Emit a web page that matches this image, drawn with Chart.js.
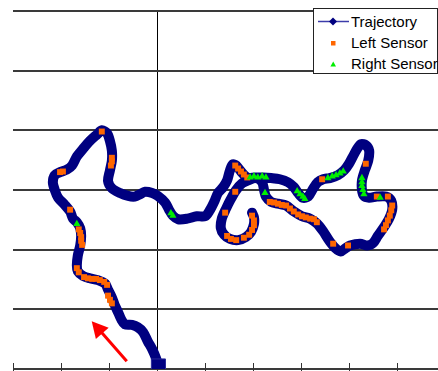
<!DOCTYPE html>
<html>
<head>
<meta charset="utf-8">
<script src="https://cdn.jsdelivr.net/npm/chart.js@4.4.1/dist/chart.umd.min.js"></script>
<style>
  html, body { margin: 0; padding: 0; background: #fff; overflow: hidden; width: 438px; height: 371px; }
  #wrap { position: relative; width: 460px; height: 380px; }
  #legend {
    position: absolute; left: 313px; top: 8px; width: 125px; height: 66px;
    box-sizing: border-box; border: 1px solid #222; background: #fff;
    font: 15px "Liberation Sans", Arial, sans-serif; color: #000; padding-top: 2px;
  }
  #legend .row { height: 21px; display: flex; align-items: center; }
  #legend svg { width: 37px; height: 21px; flex: none; }
  #legend span { white-space: nowrap; }
</style>
</head>
<body>
<div id="wrap">
  <canvas id="c" width="460" height="380"></canvas>
  <div id="legend"></div>
</div>
<script>
// Robot path (x, y in grid units) and the points where each sensor fired
const trajX = [0.03, -0.02, -0.10, -0.19, -0.29, -0.40, -0.52, -0.67, -0.75, -0.81,
  -0.88, -0.94, -1.02, -1.08, -1.23, -1.40, -1.54, -1.65, -1.67, -1.65,
  -1.60, -1.58, -1.60, -1.67, -1.75, -1.81, -1.92, -2.06, -2.13, -2.17,
  -2.13, -2.02, -1.88, -1.77, -1.67, -1.54, -1.40, -1.25, -1.15, -1.04,
  -0.98, -0.94, -0.94, -0.98, -1.02, -0.94, -0.77, -0.60, -0.46, -0.35,
  -0.25, -0.10, 0.02, 0.17, 0.25, 0.33, 0.44, 0.63, 0.83, 1.00,
  1.10, 1.19, 1.27, 1.38, 1.46, 1.52, 1.58, 1.65, 1.75, 1.88,
  2.04, 2.21, 2.38, 2.56, 2.73, 2.85, 2.94, 3.04, 3.15, 3.25,
  3.35, 3.46, 3.60, 3.77, 3.90, 4.00, 4.08, 4.17, 4.25, 4.35,
  4.42, 4.40, 4.33, 4.27, 4.27, 4.31, 4.42, 4.58, 4.77, 4.88,
  4.90, 4.83, 4.73, 4.60, 4.50, 4.38, 4.23, 4.02, 3.92, 3.83,
  3.71, 3.58, 3.46, 3.33, 3.19, 3.02, 2.85, 2.69, 2.52, 2.38,
  2.27, 2.23, 2.19, 2.06, 1.90, 1.77, 1.65, 1.54, 1.44, 1.35,
  1.33, 1.40, 1.52, 1.69, 1.85, 1.96, 2.02, 2.02, 1.98];
const trajY = [0.05, 0.18, 0.33, 0.46, 0.62, 0.70, 0.74, 0.75, 0.84, 0.95,
  1.07, 1.20, 1.33, 1.43, 1.49, 1.52, 1.56, 1.64, 1.74, 1.90,
  2.07, 2.23, 2.36, 2.46, 2.52, 2.64, 2.75, 2.87, 3.00, 3.13,
  3.25, 3.30, 3.34, 3.41, 3.56, 3.69, 3.82, 3.93, 4.00, 3.95,
  3.82, 3.66, 3.49, 3.33, 3.15, 3.03, 2.95, 2.90, 2.89, 2.93,
  2.97, 2.95, 2.90, 2.79, 2.67, 2.57, 2.51, 2.52, 2.56, 2.56,
  2.66, 2.80, 2.95, 3.05, 3.16, 3.33, 3.43, 3.41, 3.31, 3.21,
  3.21, 3.21, 3.20, 3.18, 3.13, 3.05, 2.95, 2.87, 2.89, 3.02,
  3.13, 3.18, 3.20, 3.25, 3.33, 3.44, 3.56, 3.69, 3.77, 3.75,
  3.66, 3.49, 3.33, 3.16, 3.00, 2.90, 2.87, 2.89, 2.89, 2.82,
  2.67, 2.51, 2.38, 2.23, 2.11, 2.07, 2.10, 2.07, 2.02, 1.97,
  2.03, 2.16, 2.31, 2.44, 2.52, 2.56, 2.64, 2.74, 2.77, 2.80,
  2.89, 3.00, 3.13, 3.20, 3.16, 3.11, 3.00, 2.85, 2.69, 2.52,
  2.36, 2.25, 2.18, 2.16, 2.21, 2.30, 2.43, 2.54, 2.62];

const leftX = [-1.15, -0.94, -0.94, -0.96, -2.02, -1.96, -1.81, -1.63, -1.60, -1.58,
  -1.58, -1.56, -1.67, -1.63, -1.52, -1.44, -1.35, -1.27, -1.19, -1.10,
  -1.04, -1.02, -0.98, -0.94, 1.63, 1.69, 1.75, 1.81, 1.88, 1.63,
  1.42, 1.46, 1.54, 1.65, 1.81, 1.92, 1.98, 2.02, 2.02, 1.98,
  2.35, 2.44, 2.52, 2.60, 2.69, 2.77, 2.85, 2.94, 3.02, 3.10,
  3.19, 3.27, 3.33, 3.44, 4.35, 4.58, 4.81, 4.90, 4.88, 4.85,
  4.81, 4.77, 4.73, 3.67, 3.98];
const leftY = [3.98, 3.54, 3.48, 3.41, 3.30, 3.31, 2.67, 2.34, 2.28, 2.21,
  2.15, 2.08, 1.69, 1.62, 1.54, 1.52, 1.51, 1.51, 1.49, 1.46,
  1.41, 1.23, 1.16, 1.10, 3.41, 3.36, 3.31, 3.26, 3.21, 2.97,
  2.62, 2.23, 2.18, 2.16, 2.20, 2.25, 2.33, 2.41, 2.49, 2.57,
  2.80, 2.79, 2.77, 2.75, 2.74, 2.69, 2.64, 2.59, 2.56, 2.54,
  2.52, 2.51, 2.46, 3.18, 3.44, 2.89, 2.89, 2.74, 2.66, 2.57,
  2.49, 2.41, 2.34, 2.10, 2.07];

const rightX = [-1.67, 0.29, 0.33, 1.94, 2.02, 2.10, 2.19, 2.27, 2.25, 2.92,
  2.98, 3.04, 3.08, 3.56, 3.65, 3.73, 3.81, 3.88, 4.27, 4.27,
  4.27, 4.29, 4.31, 4.65];
const rightY = [2.43, 2.61, 2.57, 3.21, 3.23, 3.21, 3.23, 3.21, 2.95, 2.98,
  2.93, 2.89, 2.85, 3.20, 3.23, 3.25, 3.28, 3.31, 3.20, 3.13,
  3.07, 3.00, 2.93, 2.87];

const seriesLabels = ['Trajectory', 'Left Sensor', 'Right Sensor'];

// Direction-of-travel arrow, in data units
const arrowTail = { x: -0.63, y: 0.13 };
const arrowTip = { x: -1.36, y: 0.80 };

const pairs = (xs, ys) => xs.map((x, i) => ({ x, y: ys[i] }));

// Short tick marks crossing the bottom axis
const crossTicks = {
  id: 'crossTicks',
  beforeDatasetsDraw(chart) {
    const xs = chart.scales.x, a = chart.chartArea, c = chart.ctx;
    c.save();
    c.strokeStyle = '#333';
    c.lineWidth = 1;
    xs.ticks.forEach(t => {
      const px = Math.round(xs.getPixelForValue(t.value)) + 0.5;
      c.beginPath();
      c.moveTo(px, a.bottom - 6);
      c.lineTo(px, a.bottom + 6);
      c.stroke();
    });
    c.restore();
  }
};

const travelArrow = {
  id: 'travelArrow',
  afterDatasetsDraw(chart) {
    const xs = chart.scales.x, ys = chart.scales.y, c = chart.ctx;
    const x0 = xs.getPixelForValue(arrowTail.x), y0 = ys.getPixelForValue(arrowTail.y);
    const x1 = xs.getPixelForValue(arrowTip.x), y1 = ys.getPixelForValue(arrowTip.y);
    const len = Math.hypot(x1 - x0, y1 - y0);
    const ux = (x1 - x0) / len, uy = (y1 - y0) / len;
    const head = 16, half = 8.5;
    const bx = x1 - ux * head, by = y1 - uy * head;
    c.save();
    c.strokeStyle = '#ff0000';
    c.fillStyle = '#ff0000';
    c.lineWidth = 3;
    c.beginPath();
    c.moveTo(x0, y0);
    c.lineTo(bx + ux * 2, by + uy * 2);
    c.stroke();
    c.beginPath();
    c.moveTo(x1, y1);
    c.lineTo(bx - uy * half, by + ux * half);
    c.lineTo(bx + uy * half, by - ux * half);
    c.closePath();
    c.fill();
    c.restore();
  }
};

const chart = new Chart(document.getElementById('c'), {
  type: 'scatter',
  data: {
    datasets: [
      {
        label: seriesLabels[0],
        data: pairs(trajX, trajY),
        showLine: true,
        borderColor: '#000080',
        borderWidth: 10,
        tension: 0.3,
        borderJoinStyle: 'round',
        borderCapStyle: 'round',
        pointStyle: 'rect',
        pointRadius: c => (c.dataIndex === 0 ? 10 : 0),
        pointBackgroundColor: '#000080',
        pointBorderColor: '#2a2a9a',
        pointBorderWidth: 1,
        order: 3
      },
      {
        label: seriesLabels[1],
        data: pairs(leftX, leftY),
        pointStyle: 'rect',
        pointRadius: 4.2,
        backgroundColor: '#ff6600',
        borderColor: '#ff6600',
        borderWidth: 0,
        order: 2
      },
      {
        label: seriesLabels[2],
        data: pairs(rightX, rightY),
        pointStyle: 'triangle',
        pointRadius: 4.2,
        backgroundColor: '#00ee00',
        borderColor: '#00ee00',
        borderWidth: 0,
        order: 1
      }
    ]
  },
  options: {
    responsive: false,
    animation: false,
    events: [],
    layout: { padding: { left: 13, top: 7, right: 15, bottom: 7 } },
    plugins: { legend: { display: false }, tooltip: { enabled: false } },
    scales: {
      x: {
        type: 'linear', min: -3, max: 6,
        ticks: { display: false, stepSize: 1 },
        grid: {
          drawTicks: false,
          lineWidth: 1,
          color: c => (c.tick && c.tick.value === 0 ? '#000' : 'rgba(0,0,0,0)')
        },
        border: { display: false }
      },
      y: {
        type: 'linear', min: 0, max: 6,
        ticks: { display: false, stepSize: 1 },
        grid: { drawTicks: false, lineWidth: 2, color: '#3a3a3a' },
        border: { display: false }
      }
    }
  },
  plugins: [crossTicks, travelArrow]
});

// Boxed legend built from the chart's datasets
function legendSymbol(ds, i) {
  if (i === 0) {
    return '<svg viewBox="0 0 37 21"><line x1="4" y1="10.5" x2="35" y2="10.5" stroke="#3c3caa" stroke-width="1.5"/>' +
      '<polygon points="19,6.5 23,10.5 19,14.5 15,10.5" fill="' + ds.borderColor + '"/></svg>';
  }
  if (ds.pointStyle === 'rect') {
    return '<svg viewBox="0 0 37 21"><rect x="17" y="9" width="4.5" height="4.5" fill="' + ds.backgroundColor + '"/></svg>';
  }
  return '<svg viewBox="0 0 37 21"><polygon points="19.2,8.5 22,13.5 16.4,13.5" fill="' + ds.backgroundColor + '"/></svg>';
}
document.getElementById('legend').innerHTML = chart.data.datasets
  .map((ds, i) => '<div class="row">' + legendSymbol(ds, i) + '<span>' + ds.label + '</span></div>')
  .join('');
</script>
</body>
</html>
